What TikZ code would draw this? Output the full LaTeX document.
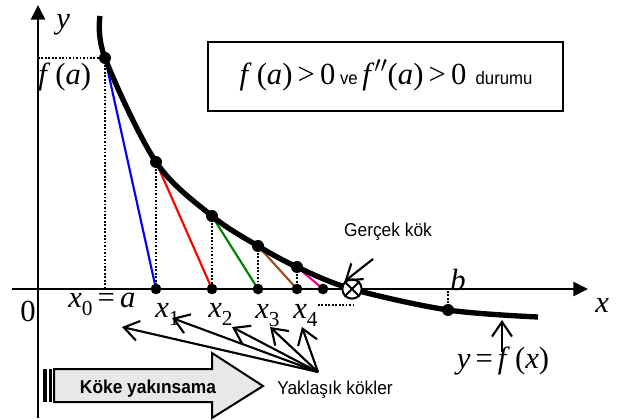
\documentclass[tikz,border=0pt]{standalone}
\usepackage{fontspec}
\setmainfont{Liberation Serif}
\newfontfamily\arialf[FakeStretch=0.93]{Liberation Sans}
\usetikzlibrary{arrows.meta}
\newcommand\vr[1]{\textit{#1}}
\newcommand\sbs[1]{\raisebox{-0.28em}{\fontsize{16}{16}\selectfont #1}}
\newcommand\mf{\fontsize{23}{23}\selectfont}
\definecolor{brn}{RGB}{153,76,26}
\begin{document}
\begin{tikzpicture}[x=0.75pt,y=-0.75pt,
  axisline/.style={line width=2pt,-{Triangle[length=11pt,width=10.5pt]}},
  curve/.style={line width=4pt},
  dotc/.style={circle,fill=black,inner sep=0pt,minimum size=9pt},
  dota/.style={circle,fill=black,inner sep=0pt,minimum size=8pt},
  guide/.style={line width=1.5pt,dash pattern=on 1.3pt off 1.3pt},
  tang/.style={line width=1.6pt},
  lbl/.style={inner sep=0pt,font=\mf},
  sans/.style={inner sep=0pt,font=\arialf\fontsize{14}{14}\selectfont},
  ptr/.style={line width=1.6pt,-{Straight Barb[length=11pt,width=15pt,line width=1.6pt]}}]
\useasboundingbox (0,0) rectangle (617,420);

% axes
\coordinate (yb) at (38,418);
\coordinate (yt) at (38,5);
\coordinate (xl) at (12,289);
\coordinate (xr) at (588,289);
\draw[axisline] (yb) -- (yt);
\draw[axisline] (xl) -- (xr);

% curve points
\coordinate (T) at (100,16);
\coordinate (P0) at (105,58);
\coordinate (P1) at (156,162);
\coordinate (P2) at (212,216);
\coordinate (P3) at (258,246);
\coordinate (P4) at (297,267);
\coordinate (R) at (352,289);
\coordinate (B) at (448,310);
\coordinate (E) at (538,317);
% axis points
\coordinate (A0) at (105,289);
\coordinate (X1) at (156,289);
\coordinate (X2) at (212,289);
\coordinate (X3) at (258,289);
\coordinate (X4) at (297,289);
\coordinate (X5) at (323,289);
\coordinate (Bx) at (448,289);
\coordinate (Ya) at (38,58);

% dotted guides
\draw[guide] (Ya) -- (P0);
\draw[guide] (P0) -- (A0);
\draw[guide] (P1) -- (X1);
\draw[guide] (P2) -- (X2);
\draw[guide] (P3) -- (X3);
\draw[guide] (P4) -- (X4);
\draw[guide] (B) -- (Bx);
\coordinate (u1) at (318,305);
\coordinate (u2) at (355,305);
\draw[guide] (u1) -- (u2);

% tangents
\draw[tang,blue] (P0) -- (X1);
\draw[tang,red] (P1) -- (X2);
\draw[tang,green!50!black] (P2) -- (X3);
\draw[tang,brn] (P3) -- (X4);
\draw[tang,magenta] (P4) -- (X5);

% curve
\draw[curve] plot[smooth,tension=0.55] coordinates {(T) (P0) (P1) (P2) (P3) (P4) (R) (B) (E)};

% dots
\foreach \p in {P0,P1,P2,P3,P4,B} \node[dotc] at (\p) {};
\foreach \p in {X1,X2,X3,X4,X5} \node[dota] at (\p) {};

% root symbol
\node[circle,draw,fill=white,line width=1.5pt,inner sep=0pt,minimum size=14.5pt] (root) at (R) {};
\draw[line width=1.5pt] (root.45) -- (root.225);
\draw[line width=1.5pt] (root.135) -- (root.315);

% labels
\node[lbl,anchor=base west] (ylab) at (56,29) {\vr{y}};
\node[lbl,anchor=base west] (fa) at (38,85) {\vr{f}\,(\vr{a})};
\node[lbl,anchor=center] (zero) at (28,311) {0};
\node[lbl,anchor=base west] (x0) at (68,307) {\vr{x}\sbs{0}\,=\,\vr{a}};
\node[lbl,anchor=base west] (x1) at (155,317) {\vr{x}\sbs{1}};
\node[lbl,anchor=base west] (x2) at (208,317) {\vr{x}\sbs{2}};
\node[lbl,anchor=base west] (x3) at (255,318) {\vr{x}\sbs{3}};
\node[lbl,anchor=base west] (x4) at (293,318) {\vr{x}\sbs{4}};
\node[lbl,anchor=base west] (blab) at (450,291) {\vr{b}};
\node[lbl,anchor=base west] (xlab) at (595,312) {\vr{x}};
\node[lbl,anchor=base] (yfx) at (503,368) {\vr{y}\,=\,\vr{f}\,(\vr{x})};

% box
\draw[line width=1.5pt] (208,42) rectangle (563,111);
\node[inner sep=0pt,anchor=base] (cond) at (386,85) {\mf\vr{f}\,(\vr{a})\,>\,0{\arialf\fontsize{13.5}{13.5}\selectfont\ ve\ }\vr{f}$''$(\vr{a})\,>\,0{\arialf\fontsize{13.5}{13.5}\selectfont\ \ durumu}};

% Gercek kok
\node[sans,anchor=base] (gk) at (388,237) {Gerçek kök};
\coordinate (gks) at (373,259);
\draw[ptr] (gks) -- (root.north west);

% y=f(x) pointer
\coordinate (yfs) at (502,352);
\coordinate (yfe) at (502,320);
\draw[ptr] (yfs) -- (yfe);

% approximate roots
\node[sans,anchor=base] (yk) at (335,394) {Yaklaşık kökler};
\coordinate (O) at (318,372);
\coordinate (t0) at (122,327);
\coordinate (t1) at (172,318);
\coordinate (t2) at (232,327);
\coordinate (t3) at (270,327);
\coordinate (t4) at (302,327);
\foreach \t in {t0,t1,t2,t3,t4} \draw[ptr] (O) -- (\t);

% big arrow
\fill (43,369) rectangle (47,402);
\fill (48.5,369) rectangle (51.8,402);
\draw[line width=1.5pt,fill=black!9] (54,369) -- (212,369) -- (212,353) -- (263,386) -- (212,418) -- (212,402) -- (54,402) -- cycle;
\node[inner sep=0pt,anchor=base,font=\arialf\bfseries\fontsize{14}{14}\selectfont] (ky) at (148,393) {Köke yakınsama};
\end{tikzpicture}
\end{document}
